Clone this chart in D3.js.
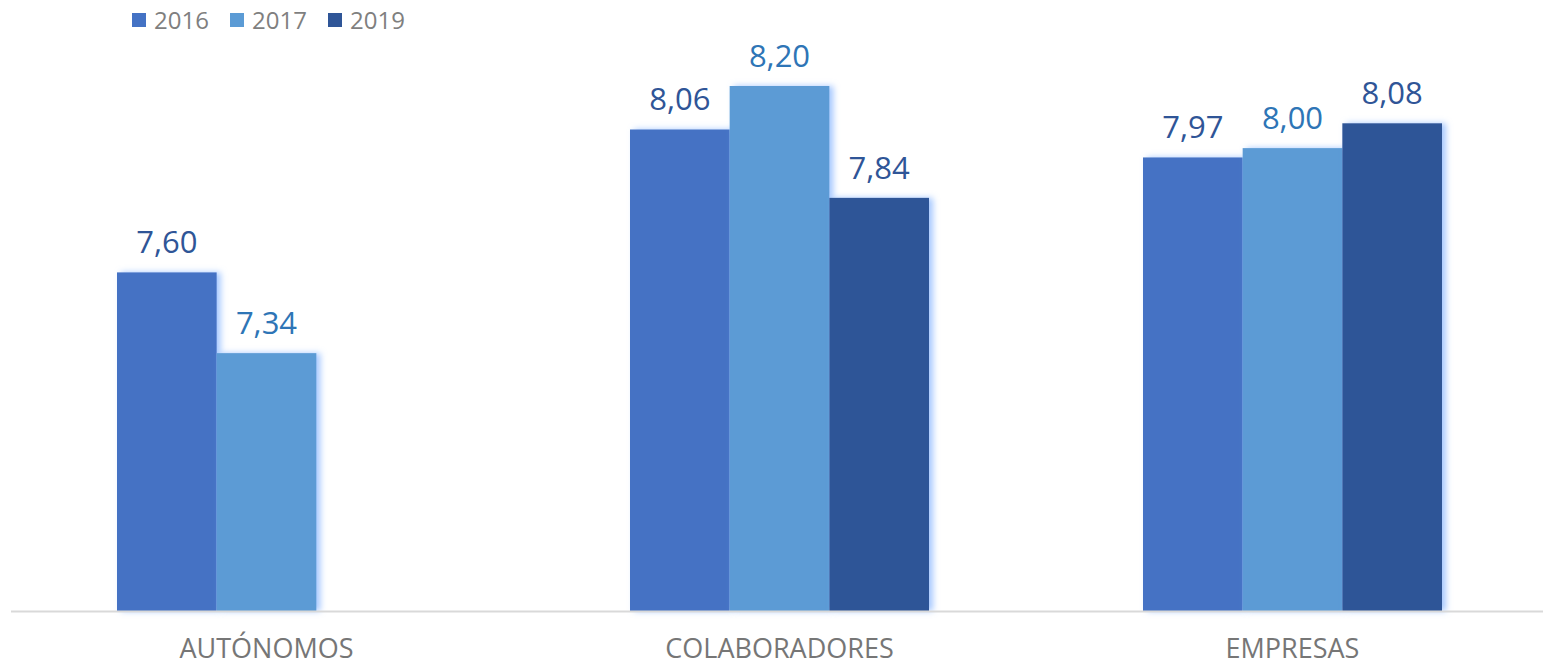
<!DOCTYPE html>
<html>
<head>
<meta charset="utf-8">
<script src="https://cdn.jsdelivr.net/npm/d3@7"></script>
<style>
  body { margin: 0; background: #fff; }
  svg { display: block; font-family: "Open Sans", sans-serif; }
</style>
</head>
<body>
<div id="chart"></div>
<script>
const categories = ['AUTÓNOMOS', 'COLABORADORES', 'EMPRESAS'];
const years = ['2016', '2017', '2019'];
const values2016 = [7.60, 8.06, 7.97];
const values2017 = [7.34, 8.20, 8.00];
const values2019 = [null, 7.84, 8.08];

const barColors = ['#4472C4', '#5B9BD5', '#2F5597'];
const labelColors = ['#2F5597', '#2E75B6', '#2F5597'];

const width = 1543, height = 667;
const baseY = 611;

const rows = categories.map((c, i) => ({
    category: c,
    values: [values2016[i], values2017[i], values2019[i]]
}));

const svg = d3.select('#chart').append('svg')
    .attr('width', width)
    .attr('height', height);

// soft blue glow on bars
const filter = svg.append('defs').append('filter')
    .attr('id', 'glow')
    .attr('x', '-10%').attr('y', '-10%')
    .attr('width', '130%').attr('height', '120%');
filter.append('feDropShadow')
    .attr('dx', 4).attr('dy', 0)
    .attr('stdDeviation', 3)
    .attr('flood-color', '#7fb0ff')
    .attr('flood-opacity', 0.7);

const x0 = d3.scaleBand()
    .domain(categories)
    .range([10, 1549])
    .paddingInner(0)
    .paddingOuter(0);

const x1 = d3.scaleBand()
    .domain(years)
    .range([(x0.bandwidth() - 299) / 2, (x0.bandwidth() + 299) / 2]);

const y = d3.scaleLinear()
    .domain([6.51, 8.2])
    .range([baseY, 86]);

const groups = svg.append('g').selectAll('g')
    .data(rows)
    .enter()
    .append('g')
    .attr('transform', d => 'translate(' + x0(d.category) + ',0)');

const bars = groups.selectAll('g.bar')
    .data(d => d.values.map((v, j) => ({year: years[j], idx: j, value: v})).filter(e => e.value != null))
    .enter()
    .append('g')
    .attr('class', 'bar');

bars.append('rect')
    .attr('x', d => x1(d.year))
    .attr('y', d => y(d.value))
    .attr('width', x1.bandwidth())
    .attr('height', d => baseY - y(d.value))
    .attr('fill', d => barColors[d.idx])
    .attr('filter', 'url(#glow)');

bars.append('text')
    .attr('x', d => x1(d.year) + x1.bandwidth() / 2)
    .attr('y', d => y(d.value) - 19)
    .attr('text-anchor', 'middle')
    .attr('font-size', 31)
    .attr('fill', d => labelColors[d.idx])
    .text(d => d3.format('.2f')(d.value).replace('.', ','));

// x axis
svg.append('line')
    .attr('x1', 11).attr('x2', width)
    .attr('y1', baseY + 0.5).attr('y2', baseY + 0.5)
    .attr('stroke', '#d9d9d9')
    .attr('stroke-width', 2);

svg.append('g').selectAll('text')
    .data(categories)
    .enter()
    .append('text')
    .attr('x', d => x0(d) + x0.bandwidth() / 2)
    .attr('y', 658)
    .attr('text-anchor', 'middle')
    .attr('font-size', 27)
    .attr('fill', '#767676')
    .text(d => d);

// legend
const legendX = [132, 230, 328];
const legend = svg.append('g').selectAll('g')
    .data(years)
    .enter()
    .append('g')
    .attr('transform', (d, i) => 'translate(' + legendX[i] + ',13)');
legend.append('rect')
    .attr('width', 14).attr('height', 14)
    .attr('fill', (d, i) => barColors[i]);
legend.append('text')
    .attr('x', 22).attr('y', 16)
    .attr('font-size', 24)
    .attr('fill', '#7f7f7f')
    .text(d => d);
</script>
</body>
</html>
